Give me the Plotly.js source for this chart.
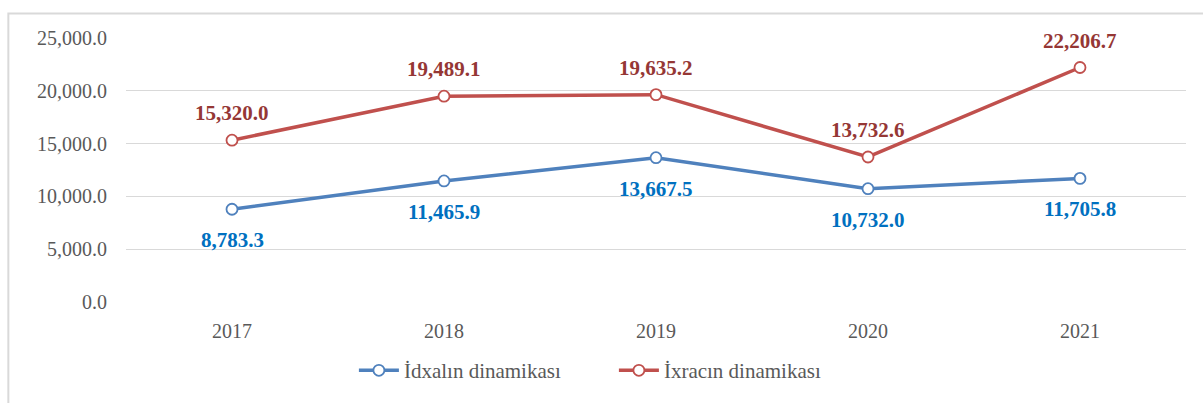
<!DOCTYPE html>
<html>
<head>
<meta charset="utf-8">
<script src="https://cdn.plot.ly/plotly-3.0.1.min.js"></script>
<style>html,body{margin:0;padding:0;background:#fff;}#chart{width:1203px;height:403px;}</style>
</head>
<body>
<div id="chart"></div>
<script>
var years = ["2017", "2018", "2019", "2020", "2021"];
var importValues = [8783.3, 11465.9, 13667.5, 10732.0, 11705.8];
var exportValues = [15320.0, 19489.1, 19635.2, 13732.6, 22206.7];
var importName = "İdxalın dinamikası";
var exportName = "İxracın dinamikası";
var yTicks = [0, 5000, 10000, 15000, 20000, 25000];

function fmt(v) {
  var parts = v.toFixed(1).split(".");
  parts[0] = parts[0].replace(/\B(?=(\d{3})+(?!\d))/g, ",");
  return parts.join(".");
}

var serif = "Times New Roman, Liberation Serif, serif";

var traces = [
  {
    x: years, y: importValues, name: importName, type: "scatter", mode: "lines+markers",
    line: {color: "#4F81BD", width: 3.5},
    marker: {symbol: "circle", size: 11, color: "#ffffff", line: {color: "#4F81BD", width: 1.8}}
  },
  {
    x: years, y: exportValues, name: exportName, type: "scatter", mode: "lines+markers",
    line: {color: "#C0504D", width: 3.5},
    marker: {symbol: "circle", size: 11, color: "#ffffff", line: {color: "#C0504D", width: 1.8}}
  }
];

var annotations = [];
for (var i = 0; i < years.length; i++) {
  annotations.push({
    x: i, y: exportValues[i], xref: "x", yref: "y", text: "<b>" + fmt(exportValues[i]) + "</b>",
    showarrow: false, yshift: 27,
    font: {family: serif, size: 21, color: "#953735"}
  });
  annotations.push({
    x: i, y: importValues[i], xref: "x", yref: "y", text: "<b>" + fmt(importValues[i]) + "</b>",
    showarrow: false, yshift: -31,
    font: {family: serif, size: 21, color: "#0070C0"}
  });
}

var layout = {
  width: 1203, height: 403,
  margin: {l: 126, r: 17, t: 38, b: 95},
  paper_bgcolor: "#ffffff", plot_bgcolor: "#ffffff",
  font: {family: serif, size: 20, color: "#595959"},
  showlegend: true,
  legend: {
    orientation: "h", x: 0.215, xanchor: "left", y: -0.26, yanchor: "middle",
    entrywidth: 205, entrywidthmode: "pixels", itemwidth: 40,
    font: {family: serif, size: 21, color: "#595959"}, tracegroupgap: 0
  },
  xaxis: {
    type: "category", showgrid: false, zeroline: false, showline: false,
    ticks: "", ticklabelstandoff: 15, tickfont: {family: serif, size: 20, color: "#595959"},
    range: [-0.5, 4.5]
  },
  yaxis: {
    range: [0, 25000], tickvals: yTicks, ticktext: yTicks.map(fmt),
    showgrid: true, gridcolor: "#d9d9d9", gridwidth: 1,
    zeroline: false, showline: false, ticks: "", ticklabelstandoff: 18,
    tickfont: {family: serif, size: 20, color: "#595959"}
  },
  annotations: annotations,
  shapes: [{
    type: "rect", xref: "paper", yref: "paper",
    x0: -0.111, x1: 1.1, y0: -0.5, y1: 1.0926,
    line: {color: "#d9d9d9", width: 2}, fillcolor: "rgba(0,0,0,0)", layer: "below"
  }]
};

Plotly.newPlot("chart", traces, layout, {displayModeBar: false, staticPlot: true});
</script>
</body>
</html>
